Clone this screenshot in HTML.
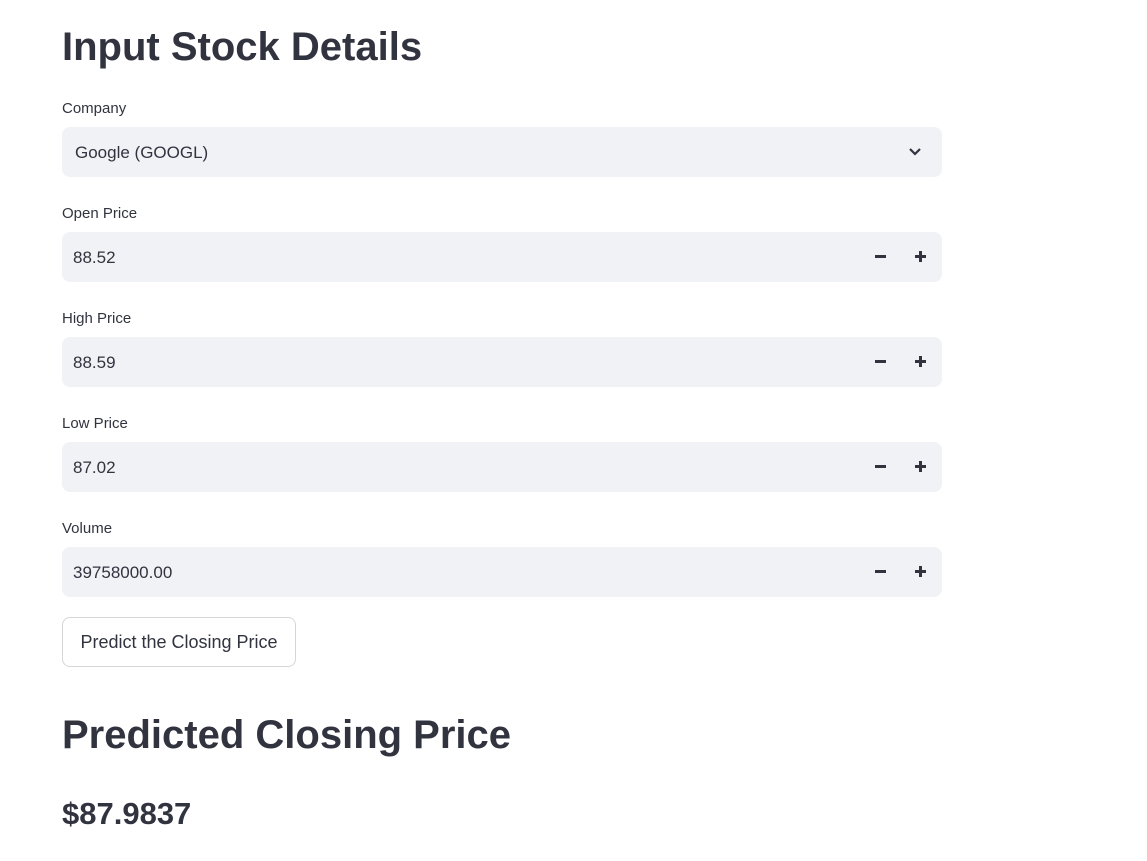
<!DOCTYPE html>
<html><head><meta charset="utf-8"><style>
body{margin:0;width:1147px;height:861px;background:#fff;font-family:"Liberation Sans",sans-serif;color:#31333f;position:relative;overflow:hidden}
.abs{position:absolute}
h1{position:absolute;margin:0;font-weight:700;font-size:40px;left:62px;letter-spacing:0}
.lbl{position:absolute;left:62px;font-size:15px}
.box{position:absolute;left:62px;width:880px;height:50px;background:#f0f2f6;border-radius:8px}
.val{position:absolute;left:11px;top:16px;font-size:17px}
.minus{position:absolute;left:813px;top:23px;width:11px;height:2.5px;background:#31333f}
.plus{position:absolute;left:853px;top:23px;width:11px;height:2.5px;background:#31333f}
.plus:after{content:"";position:absolute;left:4.25px;top:-4.25px;width:2.5px;height:11px;background:#31333f}
</style></head><body>
<h1 style="top:25px">Input Stock Details</h1>
<div class="lbl" style="top:100px">Company</div>
<div class="box" style="top:127px"><span class="val" style="left:13px">Google (GOOGL)</span>
<svg class="abs" style="left:846px;top:19px" width="14" height="12" viewBox="0 0 14 12"><path d="M2 3 L7 8 L12 3" stroke="#31333f" stroke-width="2.2" fill="none"/></svg></div>
<div class="lbl" style="top:205px">Open Price</div>
<div class="box" style="top:232px"><span class="val">88.52</span><div class="minus"></div><div class="plus"></div></div>
<div class="lbl" style="top:310px">High Price</div>
<div class="box" style="top:337px"><span class="val">88.59</span><div class="minus"></div><div class="plus"></div></div>
<div class="lbl" style="top:415px">Low Price</div>
<div class="box" style="top:442px"><span class="val">87.02</span><div class="minus"></div><div class="plus"></div></div>
<div class="lbl" style="top:520px">Volume</div>
<div class="box" style="top:547px"><span class="val">39758000.00</span><div class="minus"></div><div class="plus"></div></div>
<div class="abs" style="left:62px;top:617px;width:232px;height:48px;border:1px solid #d6d6d9;border-radius:8px;font-size:18px;line-height:49px;text-align:center">Predict the Closing Price</div>
<h1 style="top:713px">Predicted Closing Price</h1>
<div class="abs" style="left:62px;top:796px;font-size:31px;font-weight:700">$87.9837</div>
</body></html>
